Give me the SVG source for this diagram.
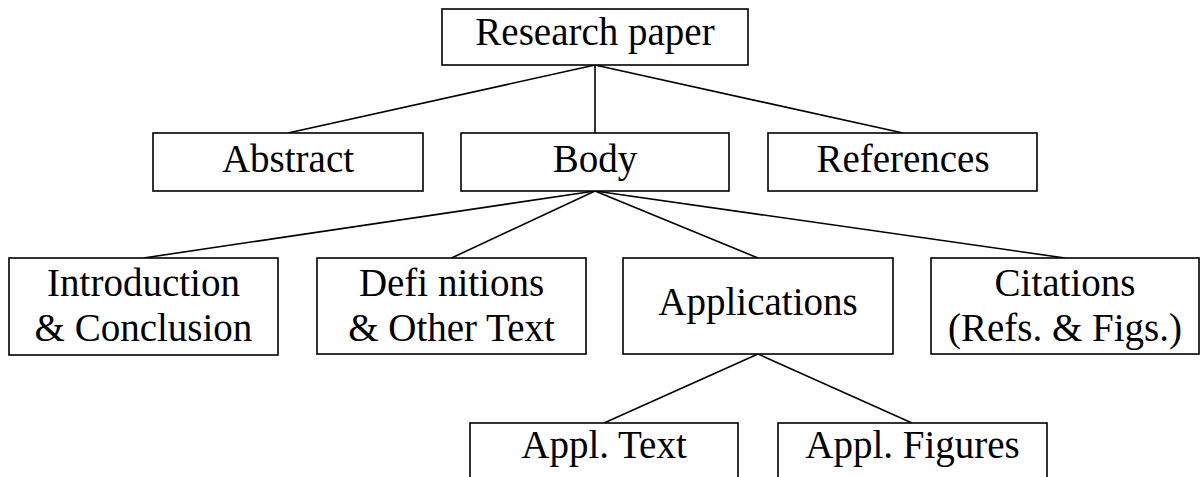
<svg xmlns="http://www.w3.org/2000/svg" width="1200" height="477" viewBox="0 0 1200 477">
<style>
rect{fill:#fff;stroke:#000;stroke-width:1.6}
line{stroke:#000;stroke-width:1.6}
text{font-family:"Liberation Serif","Times New Roman",serif;font-size:39px;fill:#000;text-anchor:middle}
</style>
<rect x="0" y="0" width="1200" height="477" style="stroke:none"/>
<g id="connectors">
<line x1="595" y1="65" x2="288" y2="133"/>
<line x1="595" y1="65" x2="595" y2="133"/>
<line x1="595" y1="65" x2="903" y2="133"/>
<line x1="595" y1="191" x2="143.5" y2="258"/>
<line x1="595" y1="191" x2="451.5" y2="258"/>
<line x1="595" y1="191" x2="758" y2="258"/>
<line x1="595" y1="191" x2="1065" y2="258"/>
<line x1="758" y1="354" x2="604" y2="423"/>
<line x1="758" y1="354" x2="912" y2="423"/>
</g>
<g id="research-paper">
<rect x="442" y="9" width="306" height="56"/>
<text x="595" y="45">Research paper</text>
</g>
<g id="abstract">
<rect x="153" y="133" width="270" height="58"/>
<text x="288" y="172">Abstract</text>
</g>
<g id="body">
<rect x="461" y="133" width="268" height="58"/>
<text x="595" y="172">Body</text>
</g>
<g id="references">
<rect x="768" y="133" width="269" height="58"/>
<text x="903" y="172">References</text>
</g>
<g id="introduction">
<rect x="9" y="258" width="269" height="97"/>
<text x="143.5" y="296">Introduction</text>
<text x="143.5" y="341">&amp; Conclusion</text>
</g>
<g id="definitions">
<rect x="317" y="258" width="269" height="96"/>
<text x="451.5" y="296">Defi nitions</text>
<text x="451.5" y="341">&amp; Other Text</text>
</g>
<g id="applications">
<rect x="623" y="258" width="270" height="96"/>
<text x="758" y="315">Applications</text>
</g>
<g id="citations">
<rect x="931" y="258" width="268" height="96"/>
<text x="1065" y="296">Citations</text>
<text x="1065" y="341">(Refs. &amp; Figs.)</text>
</g>
<g id="appl-text">
<rect x="470" y="423" width="268" height="70"/>
<text x="604" y="458">Appl. Text</text>
</g>
<g id="appl-figures">
<rect x="778" y="423" width="269" height="70"/>
<text x="912.5" y="458">Appl. Figures</text>
</g>
</svg>
